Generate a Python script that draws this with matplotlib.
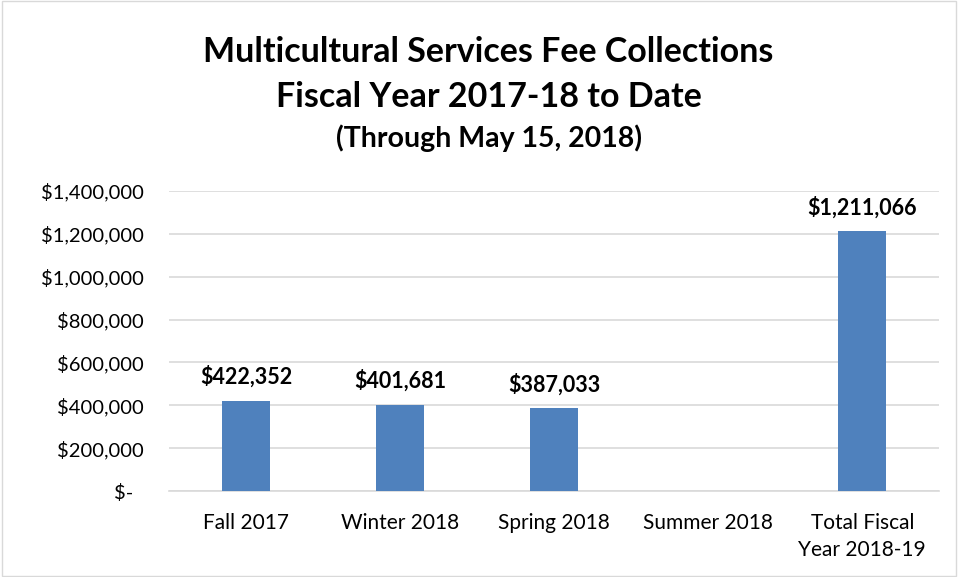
import matplotlib
matplotlib.use("Agg")
import matplotlib.pyplot as plt
import matplotlib.transforms as mtransforms
from matplotlib.ticker import FuncFormatter

plt.rcParams['font.family'] = ['Lato', 'DejaVu Sans']

categories = ["Fall 2017", "Winter 2018", "Spring 2018", "Summer 2018", "Total Fiscal\nYear 2018-19"]
collections = [422352, 401681, 387033, 0, 1211066]
labels = ["$422,352", "$401,681", "$387,033", "", "$1,211,066"]
yticks = [0, 200000, 400000, 600000, 800000, 1000000, 1200000, 1400000]


def money(v, pos):
    # accounting style: zero shows as a dash
    if v == 0:
        return "$-"
    return "${:,.0f}".format(v)


fig = plt.figure(figsize=(9.58, 5.77), dpi=100)
ax = fig.add_axes([0.1765, 0.149, 0.804, 0.52])

x = range(len(categories))
bars = ax.bar(x, collections, width=0.31, color="#4F81BD", zorder=3)
for b, lab in zip(bars, labels):
    if lab:
        ax.text(b.get_x() + b.get_width() / 2, b.get_height() + 60000, lab,
                ha="center", va="bottom", fontsize=15.5, fontweight="bold")

ax.set_xlim(-0.5, len(categories) - 0.5)
ax.set_ylim(0, 1400000)
ax.set_yticks(yticks)
ax.yaxis.set_major_formatter(FuncFormatter(money))
ax.set_xticks(list(x))
ax.set_xticklabels(categories, linespacing=1.45)
ax.tick_params(axis="both", length=0, colors="#000000")
ax.tick_params(axis="y", pad=18, labelsize=14.5)
ax.tick_params(axis="x", pad=16, labelsize=15)
ax.grid(axis="y", color="#D9D9D9", linewidth=1.2, zorder=0)
for s in ["top", "right", "left"]:
    ax.spines[s].set_visible(False)
ax.spines["bottom"].set_color("#D9D9D9")
ax.spines["bottom"].set_linewidth(1.2)

# the "$-" label sits a bit left of the others (accounting padding)
zero_lbl = ax.yaxis.get_major_ticks()[0].label1
zero_lbl.set_transform(zero_lbl.get_transform() +
                       mtransforms.ScaledTranslation(-0.11, 0, fig.dpi_scale_trans))

fig.text(0.51, 0.91, "Multicultural Services Fee Collections", ha="center", va="center",
         fontsize=24.5, fontweight="bold")
fig.text(0.51, 0.832, "Fiscal Year 2017-18 to Date", ha="center", va="center",
         fontsize=24.5, fontweight="bold")
fig.text(0.51, 0.761, "(Through May 15, 2018)", ha="center", va="center",
         fontsize=20.5, fontweight="bold")

fig.patches.append(plt.Rectangle((0.002, 0.002), 0.996, 0.996, transform=fig.transFigure,
                                 fill=False, edgecolor="#D9D9D9", linewidth=1))

fig.savefig("out.png", dpi=100)
